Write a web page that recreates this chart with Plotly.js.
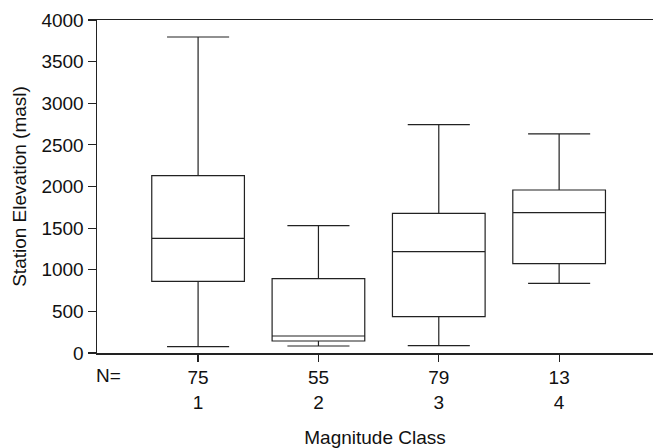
<!DOCTYPE html>
<html>
<head>
<meta charset="utf-8">
<script src="https://cdn.plot.ly/plotly-3.0.1.min.js"></script>
<style>html,body{margin:0;padding:0;background:#fff}#chart{width:653px;height:448px}</style>
</head>
<body>
<div id="chart"></div>
<script>
const classes = [1, 2, 3, 4];
const counts = [75, 55, 79, 13];
const lowerWhisker = [76, 84, 88, 837];
const q1 = [861, 144, 436, 1073];
const median = [1378, 204, 1217, 1685];
const q3 = [2130, 893, 1678, 1958];
const upperWhisker = [3796, 1529, 2743, 2631];
const tickLabels = classes.map((c, i) => counts[i] + '<br>' + c);

const trace = {
  type: 'box',
  x: classes,
  q1: q1,
  median: median,
  q3: q3,
  lowerfence: lowerWhisker,
  upperfence: upperWhisker,
  width: 0.77,
  whiskerwidth: 0.67,
  fillcolor: '#ffffff',
  line: {color: '#222222', width: 1.2},
  boxpoints: false,
  hoverinfo: 'none',
  showlegend: false
};

function mkFont() { return {family: 'Liberation Sans, Arial, sans-serif', size: 19, color: '#111'}; }

const layout = {
  width: 653, height: 448,
  margin: {l: 97, r: 0, t: 20, b: 95},
  paper_bgcolor: '#fff', plot_bgcolor: '#fff',
  font: mkFont(),
  showlegend: false,
  xaxis: {
    range: [0.16, 4.78],
    tickvals: classes,
    ticktext: tickLabels,
    tickfont: mkFont(),
    ticks: 'outside', ticklen: 7, tickcolor: '#222', tickwidth: 1.2,
    showline: true, linecolor: '#222', linewidth: 1.5, mirror: true,
    showgrid: false, zeroline: false,
    title: {text: 'Magnitude Class', font: mkFont(), standoff: 22}
  },
  yaxis: {
    range: [0, 4000],
    tickvals: [0, 500, 1000, 1500, 2000, 2500, 3000, 3500, 4000],
    tickfont: mkFont(),
    ticks: 'outside', ticklen: 8, tickcolor: '#222', tickwidth: 1.2,
    showline: true, linecolor: '#222', linewidth: 1.5,
    showgrid: false, zeroline: false,
    title: {text: 'Station Elevation (masl)', font: mkFont(), standoff: 10}
  },
  annotations: [{
    text: 'N=', xref: 'paper', yref: 'paper',
    x: 11 / 556, y: -23 / 333, xanchor: 'center', yanchor: 'middle',
    showarrow: false, font: mkFont()
  }]
};

Plotly.newPlot('chart', [trace], layout, {staticPlot: true, displayModeBar: false});
</script>
</body>
</html>
